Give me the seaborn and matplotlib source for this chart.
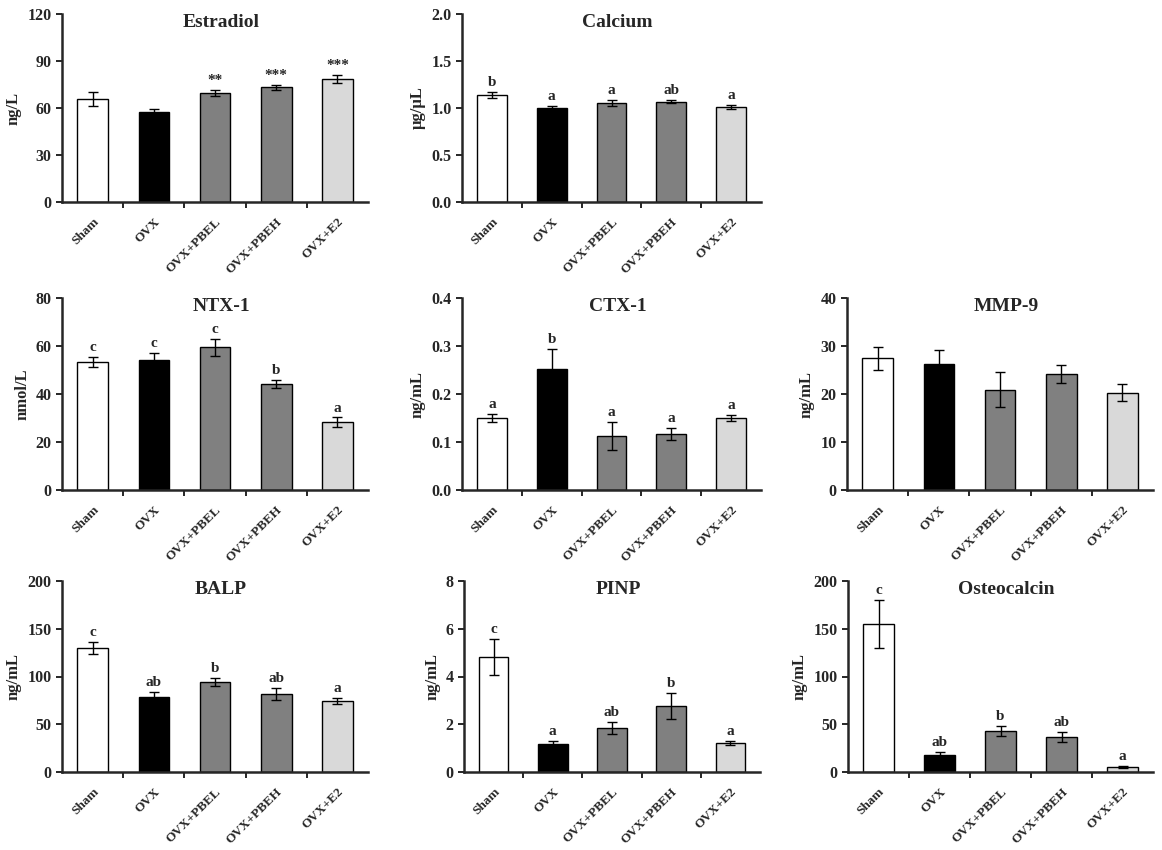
import matplotlib
matplotlib.use("Agg")
import matplotlib.pyplot as plt
import seaborn as sns
import numpy as np
from matplotlib.ticker import FixedLocator, FormatStrFormatter

sns.set_style("ticks")
plt.rcParams['font.family'] = ['Liberation Serif', 'DejaVu Serif']
plt.rcParams['font.weight'] = 'bold'

groups = ["Sham", "OVX", "OVX+PBEL", "OVX+PBEH", "OVX+E2"]
bar_colors = ["#ffffff", "#000000", "#808080", "#808080", "#d9d9d9"]

estradiol_mean = [65.6, 57.3, 69.4, 73.2, 78.3]
estradiol_err = [4.6, 2.0, 2.0, 1.5, 2.6]
estradiol_sig = ["", "", "**", "***", "***"]

calcium_mean = [1.14, 1.003, 1.055, 1.067, 1.014]
calcium_err = [0.032, 0.02, 0.03, 0.016, 0.02]
calcium_sig = ["b", "a", "a", "ab", "a"]

ntx_mean = [53.3, 54.1, 59.5, 44.1, 28.2]
ntx_err = [2.2, 3.0, 3.5, 1.7, 2.1]
ntx_sig = ["c", "c", "c", "b", "a"]

ctx_mean = [0.150, 0.252, 0.113, 0.117, 0.150]
ctx_err = [0.009, 0.042, 0.029, 0.012, 0.006]
ctx_sig = ["a", "b", "a", "a", "a"]

mmp_mean = [27.4, 26.3, 20.9, 24.1, 20.3]
mmp_err = [2.4, 2.9, 3.7, 1.9, 1.7]
mmp_sig = ["", "", "", "", ""]

balp_mean = [130.2, 78.9, 94.6, 82.0, 74.7]
balp_err = [6.3, 5.2, 4.2, 6.3, 3.1]
balp_sig = ["c", "ab", "b", "ab", "a"]

pinp_mean = [4.83, 1.19, 1.86, 2.78, 1.23]
pinp_err = [0.75, 0.12, 0.25, 0.54, 0.08]
pinp_sig = ["c", "a", "ab", "b", "a"]

osteo_mean = [155.3, 17.5, 43.3, 37.0, 5.6]
osteo_err = [25.0, 3.8, 5.2, 5.2, 1.0]
osteo_sig = ["c", "ab", "b", "ab", "a"]

panels = [
    ("Estradiol", "ng/L", estradiol_mean, estradiol_err, estradiol_sig, [0, 30, 60, 90, 120], "%d"),
    ("Calcium", "µg/µL", calcium_mean, calcium_err, calcium_sig, [0, 0.5, 1.0, 1.5, 2.0], "%.1f"),
    ("NTX-1", "nmol/L", ntx_mean, ntx_err, ntx_sig, [0, 20, 40, 60, 80], "%d"),
    ("CTX-1", "ng/mL", ctx_mean, ctx_err, ctx_sig, [0, 0.1, 0.2, 0.3, 0.4], "%.1f"),
    ("MMP-9", "ng/mL", mmp_mean, mmp_err, mmp_sig, [0, 10, 20, 30, 40], "%d"),
    ("BALP", "ng/mL", balp_mean, balp_err, balp_sig, [0, 50, 100, 150, 200], "%d"),
    ("PINP", "ng/mL", pinp_mean, pinp_err, pinp_sig, [0, 2, 4, 6, 8], "%d"),
    ("Osteocalcin", "ng/mL", osteo_mean, osteo_err, osteo_sig, [0, 50, 100, 150, 200], "%d"),
]

W, H = 1162, 850
fig = plt.figure(figsize=(W / 100, H / 100), dpi=100)

# axes boxes in pixels: (left, top, right, bottom)
boxes = [
    (62, 14, 368, 202), (462, 14, 761, 202),
    (62, 298, 368, 490), (462, 298, 761, 490), (847, 298, 1153, 490),
    (62, 581, 368, 772), (464, 581, 760, 772), (848, 581, 1153, 772),
]

for (title, ylabel, mean, err, sig, yticks, fmt), (l, t, r, b) in zip(panels, boxes):
    ax = fig.add_axes([l / W, 1 - b / H, (r - l) / W, (b - t) / H])
    sns.barplot(x=groups, y=mean, hue=groups, palette=bar_colors, legend=False,
                width=0.5, edgecolor="black", linewidth=1, errorbar=None, ax=ax)
    ax.errorbar(np.arange(len(groups)), mean, yerr=err, fmt="none", ecolor="black",
                elinewidth=1, capsize=3.5, capthick=1)
    for i, s in enumerate(sig):
        if s:
            ax.annotate(s, (i, mean[i] + err[i]), xytext=(0, 2), textcoords="offset points",
                        ha="center", va="bottom", fontsize=11, fontweight="bold")
    ax.set_ylim(yticks[0], yticks[-1])
    ax.set_xlim(-0.5, 4.5)
    ax.yaxis.set_major_locator(FixedLocator(yticks))
    ax.yaxis.set_major_formatter(FormatStrFormatter(fmt))
    ax.set_xticks(range(len(groups)))
    ax.set_xticklabels(groups, rotation=45, ha="right", rotation_mode="anchor",
                       fontsize=9.5, fontweight="bold")
    ax.xaxis.set_minor_locator(FixedLocator([0.5, 1.5, 2.5, 3.5]))
    ax.tick_params(axis="x", which="major", length=0, pad=10)
    ax.tick_params(axis="x", which="minor", length=4, width=1.4, direction="out")
    ax.tick_params(axis="y", which="major", length=4, width=1.4, direction="out",
                   labelsize=11.5)
    for lab in ax.get_yticklabels():
        lab.set_fontweight("bold")
    ax.set_ylabel(ylabel, fontsize=12, fontweight="bold")
    ax.set_xlabel("")
    ax.text(0.52, 1.0, title, transform=ax.transAxes, ha="center", va="top",
            fontsize=14, fontweight="bold")
    for sp in ["top", "right"]:
        ax.spines[sp].set_visible(False)
    for sp in ["left", "bottom"]:
        ax.spines[sp].set_linewidth(1.8)

fig.savefig("out.png", dpi=100, facecolor="white")
